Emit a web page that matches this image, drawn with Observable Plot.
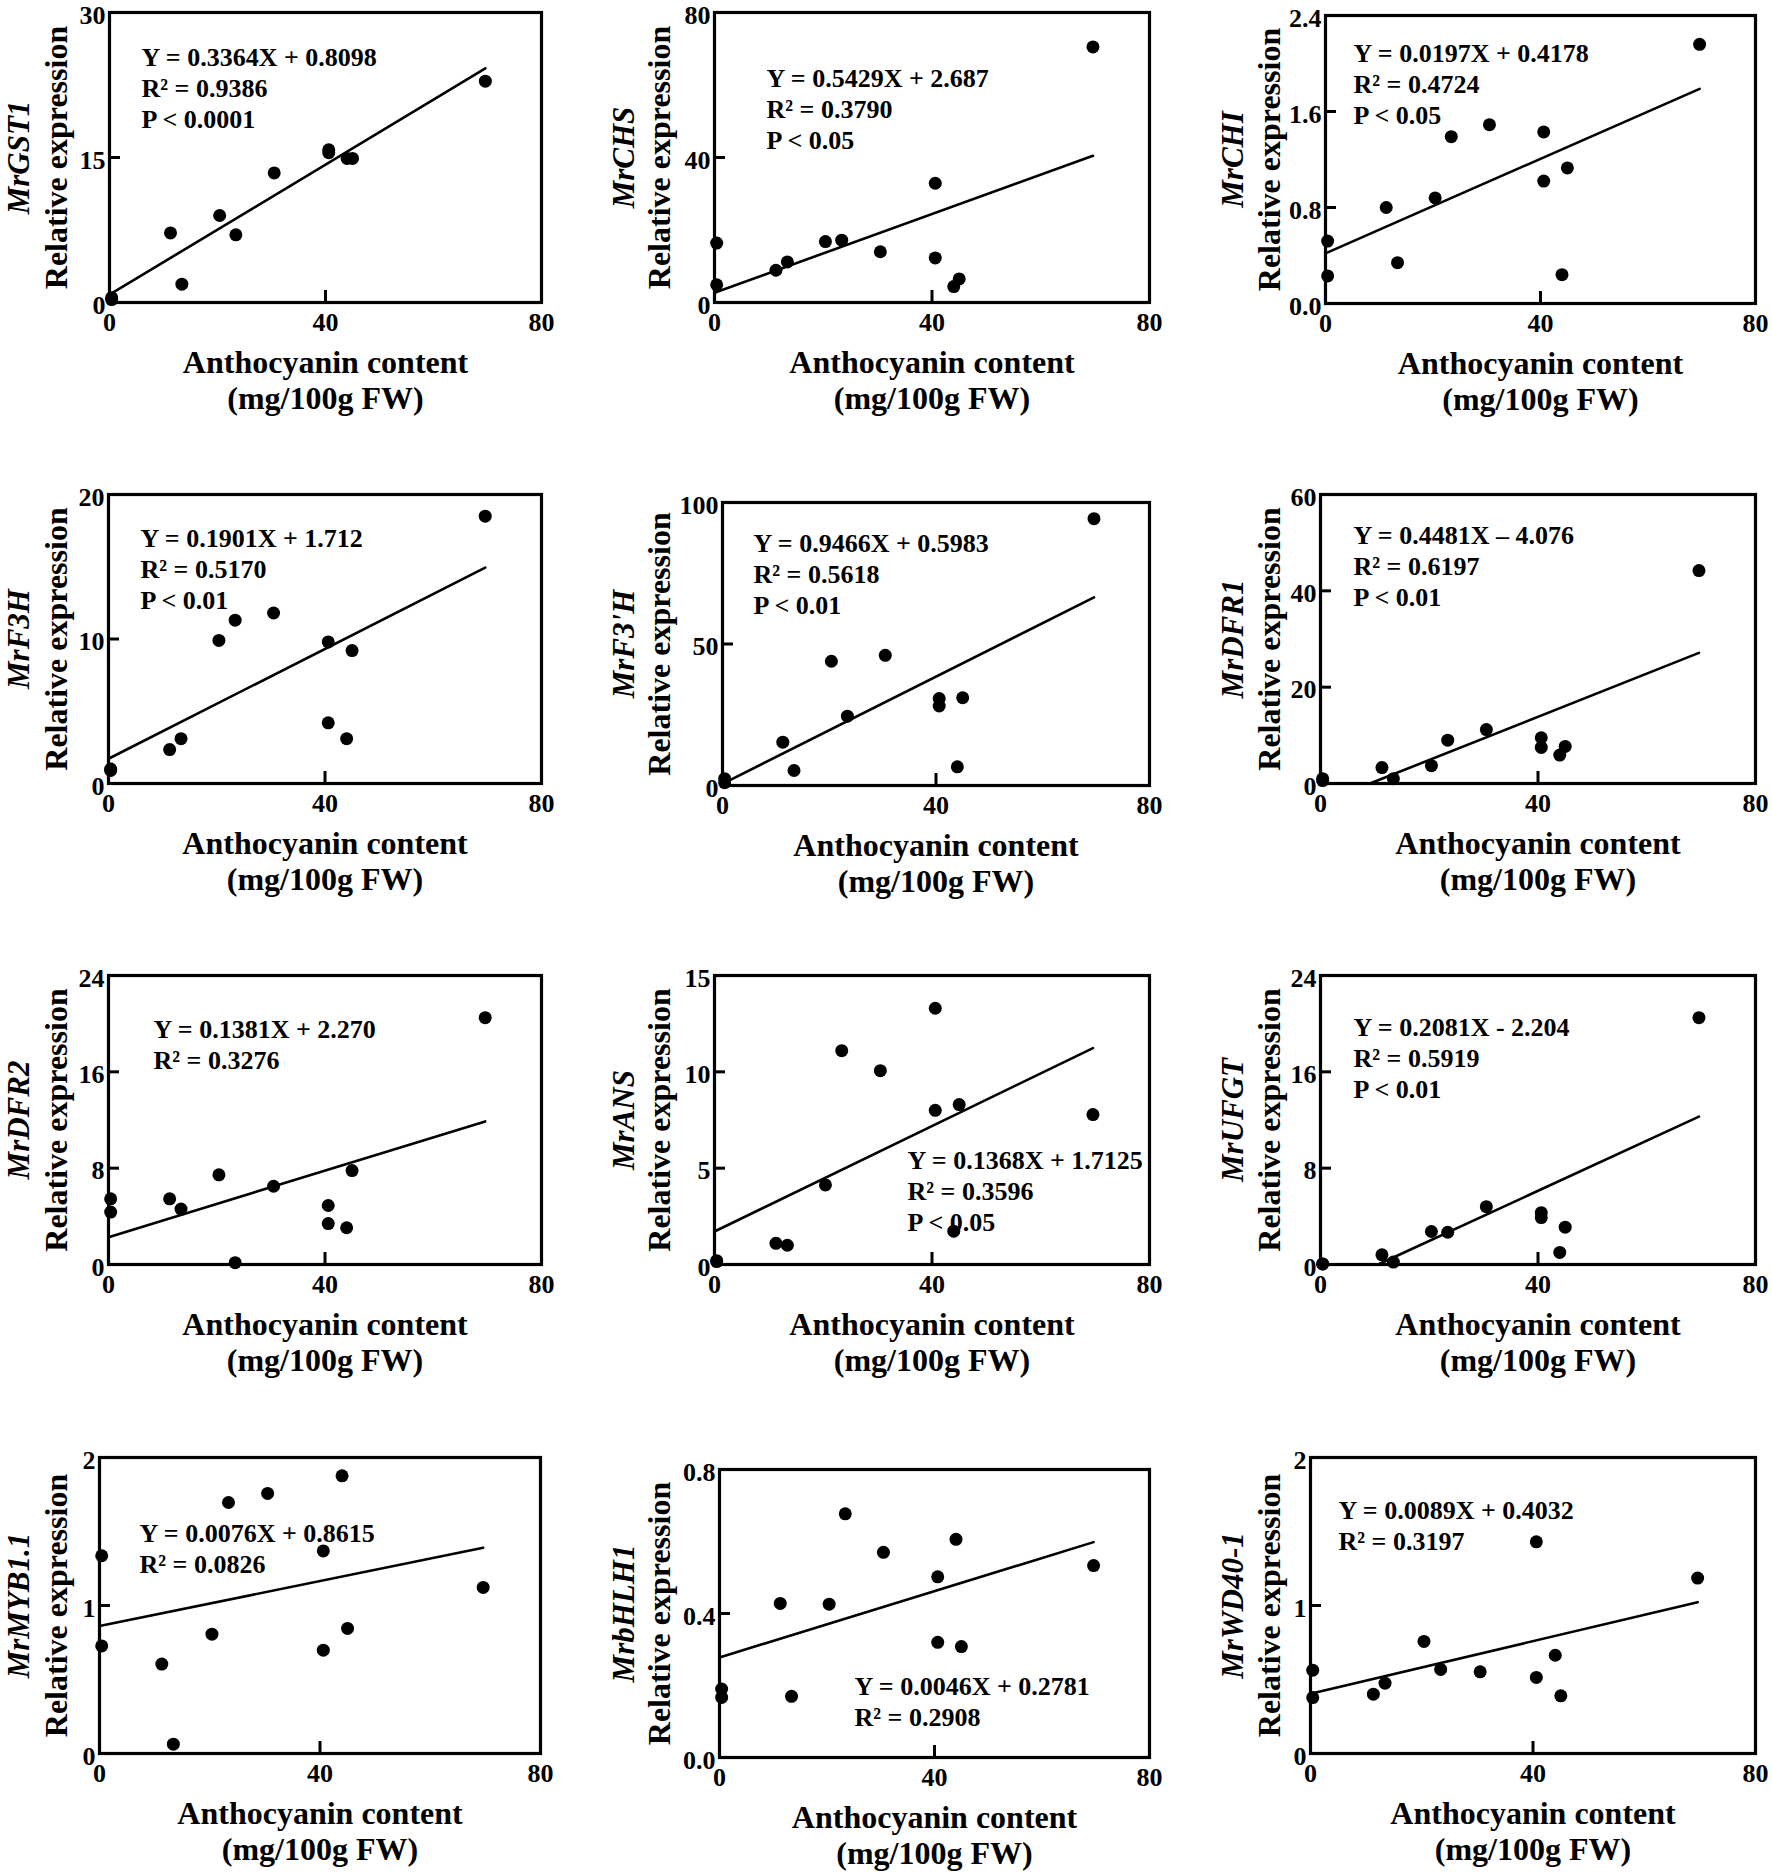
<!DOCTYPE html>
<html><head><meta charset="utf-8">
<script src="https://cdn.jsdelivr.net/npm/d3@7"></script>
<script src="https://cdn.jsdelivr.net/npm/@observablehq/plot@0.6"></script>
<style>
body{margin:0;background:#fff;}
#fig{position:relative;width:1772px;height:1876px;background:#fff;overflow:hidden;}
.panel{position:absolute;}
</style></head><body><div id="fig"></div>
<script>
// ---- data ----
const anthocyanin = [0.4, 0.4, 11.3, 13.4, 20.4, 23.4, 30.5, 40.6, 40.6, 44.0, 45.0, 69.6];
const genes = ["MrGST1","MrCHS","MrCHI","MrF3H","MrF3'H","MrDFR1","MrDFR2","MrANS","MrUFGT","MrMYB1.1","MrbHLH1","MrWD40-1"];
const gst1  = [0.3, 0.5, 7.2, 1.9, 9.0, 7.0, 13.4, 15.8, 15.5, 14.9, 14.9, 22.9];
const chs   = [16.4, 4.9, 8.9, 11.2, 16.8, 17.2, 14.0, 32.9, 12.3, 4.4, 6.5, 70.5];
const chi   = [0.52, 0.23, 0.80, 0.34, 0.88, 1.39, 1.49, 1.43, 1.02, 0.24, 1.13, 2.16];
const f3h   = [1.0, 0.9, 2.35, 3.1, 9.9, 11.3, 11.8, 9.8, 4.2, 3.1, 9.2, 18.5];
const f3ph  = [2.4, 1.0, 15.3, 5.3, 43.9, 24.5, 46.0, 30.7, 28.1, 6.6, 31.0, 94.3];
const dfr1  = [1.0, 0.6, 3.3, 1.0, 3.7, 9.0, 11.2, 9.5, 7.5, 5.9, 7.7, 44.2];
const dfr2  = [5.45, 4.35, 5.45, 4.6, 7.45, 0.15, 6.5, 4.9, 3.4, 3.05, 7.8, 20.5];
const ans   = [0.2, 0.15, 1.1, 1.0, 4.13, 11.1, 10.06, 13.3, 8.0, 1.73, 8.3, 7.78];
const ufgt  = [0.05, 0.05, 0.8, 0.2, 2.74, 2.68, 4.8, 4.3, 3.9, 1.0, 3.1, 20.5];
const myb11 = [1.336, 0.727, 0.604, 0.063, 0.806, 1.696, 1.757, 1.369, 0.698, 1.876, 0.845, 1.122];
const bhlh1 = [0.19, 0.167, 0.428, 0.17, 0.426, 0.677, 0.570, 0.502, 0.320, 0.606, 0.308, 0.533];
const wd401 = [0.563, 0.378, 0.401, 0.475, 0.757, 0.568, 0.552, 1.430, 0.514, 0.664, 0.39, 1.185];
const expression = [gst1, chs, chi, f3h, f3ph, dfr1, dfr2, ans, ufgt, myb11, bhlh1, wd401];

const slopes     = [0.3364, 0.5429, 0.0197, 0.1901, 0.9466, 0.4481, 0.1381, 0.1368, 0.2081, 0.0076, 0.0046, 0.0089];
const intercepts = [0.8098, 2.687, 0.4178, 1.712, 0.5983, -4.076, 2.270, 1.7125, -2.204, 0.8615, 0.2781, 0.4032];
const equations = [
  ["Y = 0.3364X + 0.8098", "R² = 0.9386", "P < 0.0001"],
  ["Y = 0.5429X + 2.687", "R² = 0.3790", "P < 0.05"],
  ["Y = 0.0197X + 0.4178", "R² = 0.4724", "P < 0.05"],
  ["Y = 0.1901X + 1.712", "R² = 0.5170", "P < 0.01"],
  ["Y = 0.9466X + 0.5983", "R² = 0.5618", "P < 0.01"],
  ["Y = 0.4481X – 4.076", "R² = 0.6197", "P < 0.01"],
  ["Y = 0.1381X + 2.270", "R² = 0.3276"],
  ["Y = 0.1368X + 1.7125", "R² = 0.3596", "P < 0.05"],
  ["Y = 0.2081X - 2.204", "R² = 0.5919", "P < 0.01"],
  ["Y = 0.0076X + 0.8615", "R² = 0.0826"],
  ["Y = 0.0046X + 0.2781", "R² = 0.2908"],
  ["Y = 0.0089X + 0.4032", "R² = 0.3197"]
];
const xTicks = [0, 40, 80];
const yTicks = [[0,15,30],[0,40,80],[0,0.8,1.6,2.4],[0,10,20],[0,50,100],[0,20,40,60],
                [0,8,16,24],[0,5,10,15],[0,8,16,24],[0,1,2],[0,0.4,0.8],[0,1,2]];
const yDecimals = [0,0,1,0,0,0,0,0,0,0,1,0];
const xLabel = ["Anthocyanin content", "(mg/100g FW)"];
const yLabel = "Relative expression";

// ---- layout (pixels) ----
const layout = [
  {box:[109, 12, 541, 302],   eq:[32, 35]},
  {box:[714, 12, 1149, 302],  eq:[52, 56]},
  {box:[1325, 15, 1755, 303], eq:[28, 28]},
  {box:[108, 494, 541, 783],  eq:[32, 34]},
  {box:[722, 502, 1149, 785], eq:[31, 31]},
  {box:[1320, 494, 1755, 783],eq:[33, 31]},
  {box:[108, 975, 541, 1264], eq:[45, 44]},
  {box:[714, 975, 1149, 1264],eq:[193, 175]},
  {box:[1320, 975, 1755, 1264],eq:[33, 42]},
  {box:[99, 1457, 540, 1753], eq:[40, 66]},
  {box:[719, 1469, 1149, 1757],eq:[135, 207]},
  {box:[1310, 1457, 1755, 1753],eq:[28, 43]}
];
const colBase = [0, 590, 1180];
const colWidth = [590, 590, 592];
const rowBase = [0, 450, 930, 1410];
const rowHeight = [450, 480, 480, 466];
const labelX = [[19, 56], [624, 659], [1233, 1269]];
const FONT = "'Liberation Serif', 'Times New Roman', serif";

const fig = document.getElementById("fig");

genes.forEach((gene, i) => {
  const col = i % 3, row = Math.floor(i / 3);
  const [l, t, r, b] = layout[i].box;
  const bx = colBase[col], by = rowBase[row], W = colWidth[col], H = rowHeight[row];
  const mL = l - bx, mT = t - by, mR = bx + W - r, mB = by + H - b;
  const pw = r - l, ph = b - t;
  const ticks = yTicks[i];
  const ymax = ticks[ticks.length - 1];
  const pts = anthocyanin.map((x, k) => ({x, y: expression[i][k]}));
  const a = slopes[i], c = intercepts[i];
  const x0 = Math.max(0, -c / a), x1 = d3.max(anthocyanin);
  const fit = [{x: x0, y: a * x0 + c}, {x: x1, y: a * x1 + c}];
  const fmt = yDecimals[i] ? d3.format(".1f") : d3.format("d");
  const midY = ticks.slice(1, -1);
  const eqMarks = equations[i].map((s, k) => Plot.text([s], {
    text: d => d, frameAnchor: "top-left", dx: layout[i].eq[0], dy: layout[i].eq[1] + k * 31,
    textAnchor: "start", fontSize: 26, fontWeight: "bold", fontFamily: FONT, fill: "black"
  }));
  const [gx, rx] = labelX[col];

  const svg = Plot.plot({
    width: W, height: H,
    marginLeft: mL, marginTop: mT, marginRight: mR, marginBottom: mB,
    style: {fontFamily: FONT, fontWeight: "bold", fontSize: "26px", color: "black", background: "white", overflow: "visible"},
    x: {domain: [0, 80]},
    y: {domain: [0, ymax]},
    marks: [
      Plot.axisX({ticks: xTicks, tickSize: 0, tickPadding: 10, label: null, fontSize: 26, fontWeight: "bold"}),
      Plot.axisY({ticks: ticks, tickSize: 0, tickPadding: 4, dy: 3, label: null, tickFormat: fmt, fontSize: 26, fontWeight: "bold"}),
      Plot.tickX([40], {x: d => d, insetTop: ph - 12, strokeWidth: 3, stroke: "black"}),
      Plot.tickY(midY, {y: d => d, insetRight: pw - 11, strokeWidth: 3, stroke: "black"}),
      Plot.frame({stroke: "black", strokeWidth: 3.2}),
      Plot.line(fit, {x: "x", y: "y", stroke: "black", strokeWidth: 2.6}),
      Plot.dot(pts, {x: "x", y: "y", r: 6.5, fill: "black", stroke: "none"}),
      ...eqMarks,
      Plot.text([xLabel[0]], {text: d => d, frameAnchor: "bottom", dy: 70, fontSize: 32, fontWeight: "bold", fontFamily: FONT, fill: "black"}),
      Plot.text([xLabel[1]], {text: d => d, frameAnchor: "bottom", dy: 106, fontSize: 32, fontWeight: "bold", fontFamily: FONT, fill: "black"}),
      Plot.text([gene], {text: d => d, frameAnchor: "left", textAnchor: "middle", dx: gx - l, rotate: -90, fontSize: 31, fontWeight: "bold", fontStyle: "italic", fontFamily: FONT, fill: "black"}),
      Plot.text([yLabel], {text: d => d, frameAnchor: "left", textAnchor: "middle", dx: rx - l, rotate: -90, fontSize: 32, fontWeight: "bold", fontFamily: FONT, fill: "black"})
    ]
  });
  const div = document.createElement("div");
  div.className = "panel";
  div.style.left = bx + "px";
  div.style.top = by + "px";
  div.appendChild(svg);
  fig.appendChild(div);
});
</script>
</body></html>
